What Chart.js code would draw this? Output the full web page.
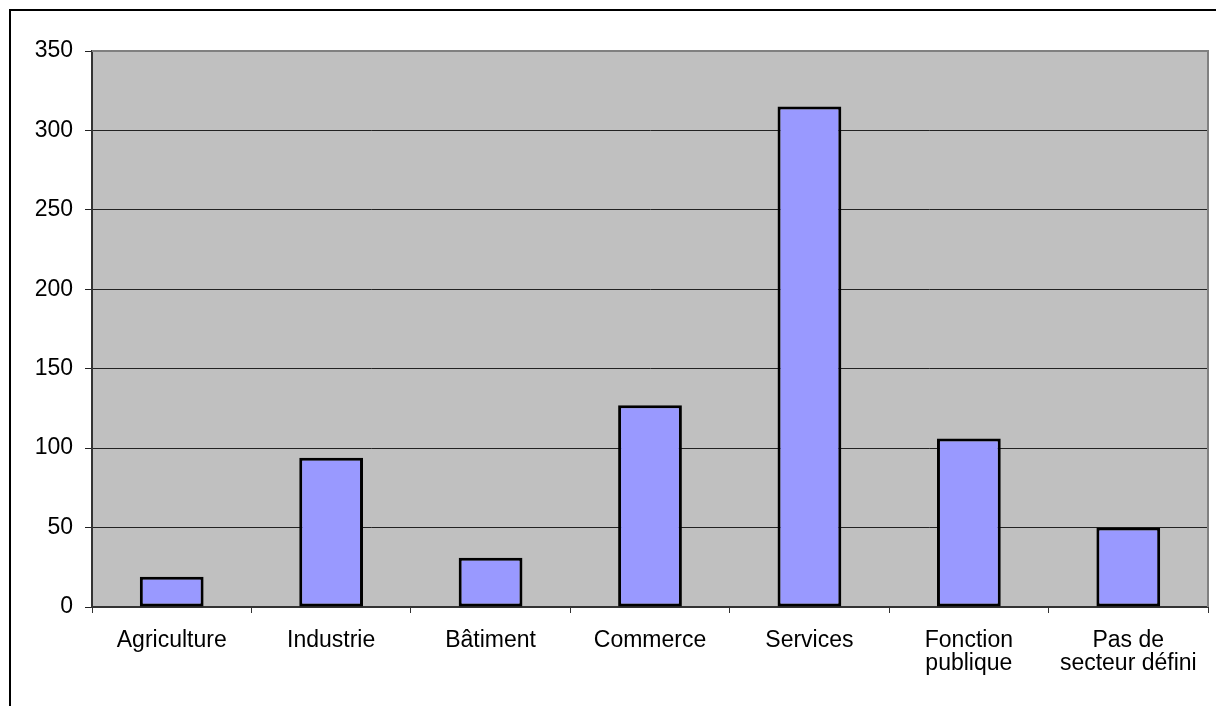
<!DOCTYPE html>
<html>
<head>
<meta charset="utf-8">
<script src="https://cdn.jsdelivr.net/npm/chart.js@4"></script>
<style>
  html, body { margin: 0; padding: 0; background: #fff; }
  #sectorChart { display: block; }
</style>
</head>
<body>
<canvas id="sectorChart" width="1216" height="706"></canvas>
<script>
const sectors = [
  "Agriculture",
  "Industrie",
  "Bâtiment",
  "Commerce",
  "Services",
  ["Fonction", "publique"],
  ["Pas de", "secteur défini"],
];
const counts = [19, 94, 31, 127, 315, 106, 50];
const yMin = 0;
const yMax = 350;
const yStep = 50;

// grey plot background + outer frame
const plotDecor = {
  id: "plotDecor",
  beforeDraw(chart) {
    const c = chart.ctx;
    const a = chart.chartArea;
    c.save();
    c.fillStyle = "#c0c0c0";
    c.fillRect(a.left, a.top, a.right - a.left, a.bottom - a.top);
    c.restore();
  },
  afterDraw(chart) {
    const c = chart.ctx;
    const a = chart.chartArea;
    c.save();
    // top and right edge of the plot area
    c.strokeStyle = "#808080";
    c.lineWidth = 2;
    c.beginPath();
    c.moveTo(a.left, a.top);
    c.lineTo(a.right, a.top);
    c.lineTo(a.right, a.bottom);
    c.stroke();
    // outer frame (runs off the page on right and bottom)
    c.strokeStyle = "#000";
    c.lineWidth = 2;
    c.beginPath();
    c.moveTo(chart.width, 10);
    c.lineTo(10, 10);
    c.lineTo(10, chart.height);
    c.stroke();
    c.restore();
  },
};

const ctx = document.getElementById("sectorChart").getContext("2d");
const sectorChart = new Chart(ctx, {
  type: "bar",
  data: {
    labels: sectors,
    datasets: [
      {
        data: counts,
        backgroundColor: "#9999ff",
        borderColor: "#000",
        borderWidth: 3,
        borderSkipped: false,
        barPercentage: 0.4,
        categoryPercentage: 1,
      },
    ],
  },
  options: {
    responsive: false,
    animation: false,
    devicePixelRatio: 1,
    layout: { padding: { top: 51, right: 8, left: 0, bottom: 0 } },
    plugins: {
      legend: { display: false },
      tooltip: { enabled: false },
    },
    scales: {
      x: {
        offset: true,
        afterFit(scale) { scale.height = 99; },
        grid: {
          offset: true,
          drawOnChartArea: false,
          drawTicks: true,
          tickLength: 6,
          color: "#333",
        },
        border: { display: true, color: "#333", width: 2 },
        ticks: {
          color: "#000",
          padding: 16,
          maxRotation: 0,
          autoSkip: false,
          font: { family: "'Liberation Sans', Arial, sans-serif", size: 23, lineHeight: 1.0 },
        },
      },
      y: {
        min: yMin,
        max: yMax,
        afterFit(scale) { scale.width = 92; },
        grid: {
          color: "#222",
          lineWidth: 1,
          tickLength: 7,
        },
        border: { display: true, color: "#333", width: 2 },
        ticks: {
          stepSize: yStep,
          color: "#000",
          padding: 12,
          font: { family: "'Liberation Sans', Arial, sans-serif", size: 23 },
        },
      },
    },
  },
  plugins: [plotDecor],
});
</script>
</body>
</html>
